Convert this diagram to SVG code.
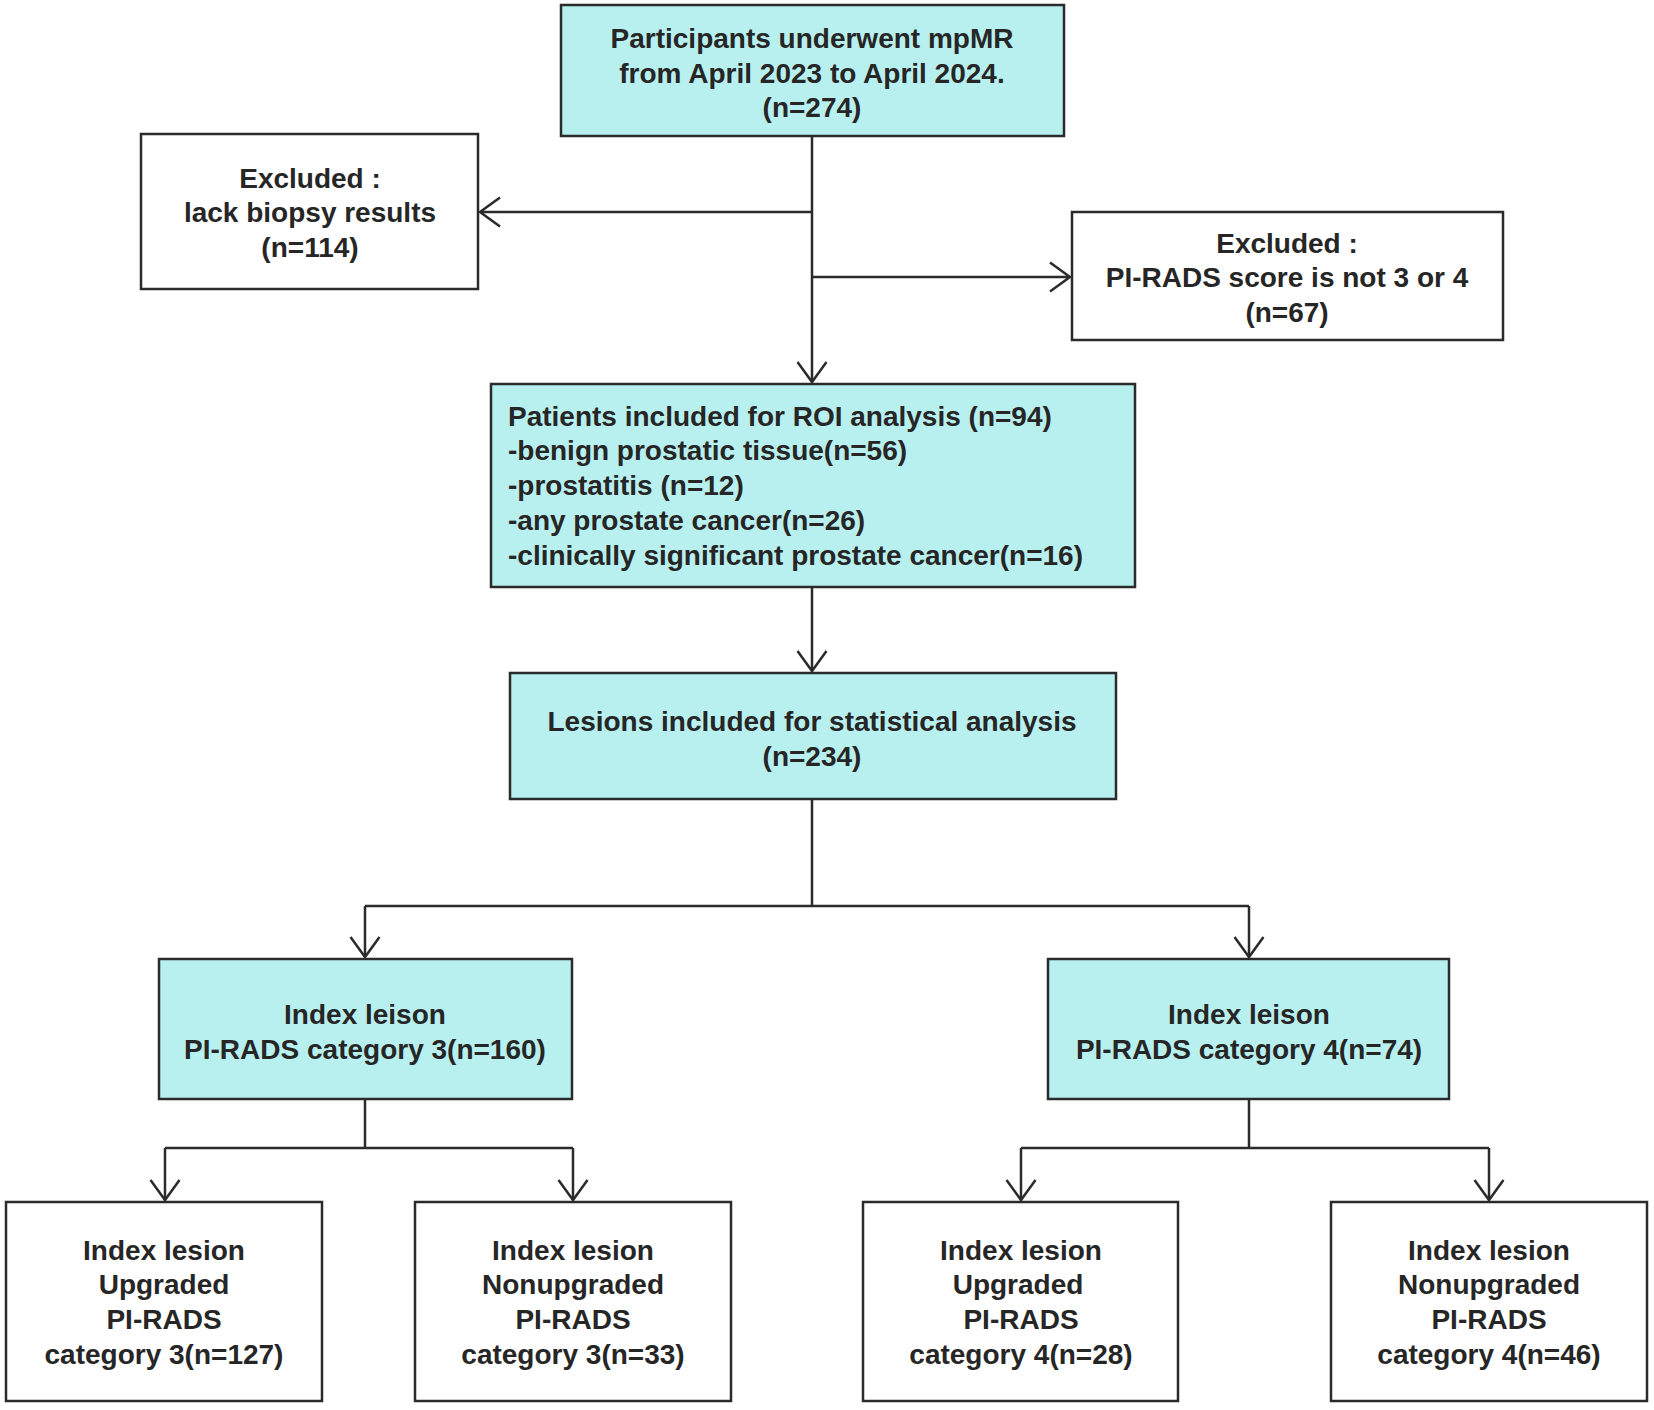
<svg xmlns="http://www.w3.org/2000/svg" width="1654" height="1410" viewBox="0 0 1654 1410">
<style>
.bx{stroke:#2b2b2b;stroke-width:2.5}
.cy{fill:#b8f0f0}
.wh{fill:#ffffff}
.t{font-family:"Liberation Sans",Arial,sans-serif;font-weight:bold;font-size:28px;fill:#262626}
.c{text-anchor:middle}
.ln{fill:none;stroke:#2b2b2b;stroke-width:2.5}
</style>
<defs>
<marker id="ah" markerUnits="userSpaceOnUse" markerWidth="40" markerHeight="40" viewBox="-30 -20 40 40" refX="0" refY="0" orient="auto" overflow="visible">
<path d="M-20,-14.5 L0,0 L-20,14.5" fill="none" stroke="#2b2b2b" stroke-width="2.5" stroke-linejoin="miter"/>
</marker>
</defs>
<rect width="1654" height="1410" fill="#ffffff"/>
<g id="connectors">
<path class="ln" d="M812,136 V382" marker-end="url(#ah)"/>
<path class="ln" d="M812,212 H480" marker-end="url(#ah)"/>
<path class="ln" d="M812,277 H1070" marker-end="url(#ah)"/>
<path class="ln" d="M812,587 V671" marker-end="url(#ah)"/>
<path class="ln" d="M812,799 V906 M365,906 H1249"/>
<path class="ln" d="M365,906 V957" marker-end="url(#ah)"/>
<path class="ln" d="M1249,906 V957" marker-end="url(#ah)"/>
<path class="ln" d="M365,1099 V1148 M165,1148 H573"/>
<path class="ln" d="M165,1148 V1200" marker-end="url(#ah)"/>
<path class="ln" d="M573,1148 V1200" marker-end="url(#ah)"/>
<path class="ln" d="M1249,1099 V1148 M1021,1148 H1489"/>
<path class="ln" d="M1021,1148 V1200" marker-end="url(#ah)"/>
<path class="ln" d="M1489,1148 V1200" marker-end="url(#ah)"/>
</g>
<g id="n_participants">
<rect class="bx cy" x="561" y="5" width="503" height="131"/>
<text class="t c" x="812" y="48">Participants underwent mpMR</text>
<text class="t c" x="812" y="83">from April 2023 to April 2024.</text>
<text class="t c" x="812" y="117">(n=274)</text>
</g>
<g id="n_excl_biopsy">
<rect class="bx wh" x="141" y="134" width="337" height="155"/>
<text class="t c" x="310" y="188">Excluded :</text>
<text class="t c" x="310" y="222">lack biopsy results</text>
<text class="t c" x="310" y="257">(n=114)</text>
</g>
<g id="n_excl_pirads">
<rect class="bx wh" x="1072" y="212" width="431" height="128"/>
<text class="t c" x="1287" y="253">Excluded :</text>
<text class="t c" x="1287" y="287">PI-RADS score is not 3 or 4</text>
<text class="t c" x="1287" y="322">(n=67)</text>
</g>
<g id="n_patients">
<rect class="bx cy" x="491" y="384" width="644" height="203"/>
<text class="t" x="508" y="426">Patients included for ROI analysis (n=94)</text>
<text class="t" x="508" y="460">-benign prostatic tissue(n=56)</text>
<text class="t" x="508" y="495">-prostatitis (n=12)</text>
<text class="t" x="508" y="530">-any prostate cancer(n=26)</text>
<text class="t" x="508" y="565">-clinically significant prostate cancer(n=16)</text>
</g>
<g id="n_lesions">
<rect class="bx cy" x="510" y="673" width="606" height="126"/>
<text class="t c" x="812" y="731">Lesions included for statistical analysis</text>
<text class="t c" x="812" y="766">(n=234)</text>
</g>
<g id="n_cat3">
<rect class="bx cy" x="159" y="959" width="413" height="140"/>
<text class="t c" x="365" y="1024">Index leison</text>
<text class="t c" x="365" y="1059">PI-RADS category 3(n=160)</text>
</g>
<g id="n_cat4">
<rect class="bx cy" x="1048" y="959" width="401" height="140"/>
<text class="t c" x="1249" y="1024">Index leison</text>
<text class="t c" x="1249" y="1059">PI-RADS category 4(n=74)</text>
</g>
<g id="n_up3">
<rect class="bx wh" x="6" y="1202" width="316" height="199"/>
<text class="t c" x="164" y="1260">Index lesion</text>
<text class="t c" x="164" y="1294">Upgraded</text>
<text class="t c" x="164" y="1329">PI-RADS</text>
<text class="t c" x="164" y="1364">category 3(n=127)</text>
</g>
<g id="n_nonup3">
<rect class="bx wh" x="415" y="1202" width="316" height="199"/>
<text class="t c" x="573" y="1260">Index lesion</text>
<text class="t c" x="573" y="1294">Nonupgraded</text>
<text class="t c" x="573" y="1329">PI-RADS</text>
<text class="t c" x="573" y="1364">category 3(n=33)</text>
</g>
<g id="n_up4">
<rect class="bx wh" x="863" y="1202" width="315" height="199"/>
<text class="t c" x="1021" y="1260">Index lesion</text>
<text class="t c" x="1018" y="1294">Upgraded</text>
<text class="t c" x="1021" y="1329">PI-RADS</text>
<text class="t c" x="1021" y="1364">category 4(n=28)</text>
</g>
<g id="n_nonup4">
<rect class="bx wh" x="1331" y="1202" width="316" height="199"/>
<text class="t c" x="1489" y="1260">Index lesion</text>
<text class="t c" x="1489" y="1294">Nonupgraded</text>
<text class="t c" x="1489" y="1329">PI-RADS</text>
<text class="t c" x="1489" y="1364">category 4(n=46)</text>
</g>
</svg>
